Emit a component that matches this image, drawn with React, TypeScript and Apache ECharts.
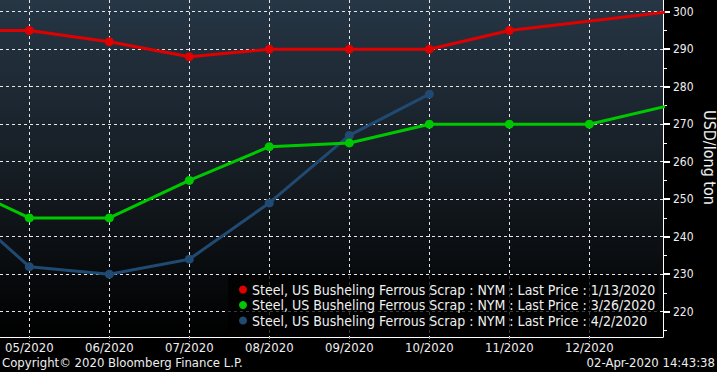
import React, { useEffect, useRef } from "react";
import * as echarts from "echarts";

const months = ["04/2020", "05/2020", "06/2020", "07/2020", "08/2020", "09/2020", "10/2020", "11/2020", "12/2020", "01/2021"];
const redValues: (number | null)[] = [295, 295, 292, 288, 290, 290, 290, 295, null, 300];
const greenValues: (number | null)[] = [255, 245, 245, 255, 264, 265, 270, 270, 270, 275];
const blueValues: (number | null)[] = [251, 232, 230, 234, 249, 267, 278, null, null, null];
const seriesNames = [
  "Steel, US Busheling Ferrous Scrap : NYM : Last Price : 1/13/2020",
  "Steel, US Busheling Ferrous Scrap : NYM : Last Price : 3/26/2020",
  "Steel, US Busheling Ferrous Scrap : NYM : Last Price : 4/2/2020",
];
const yTicks = [220, 230, 240, 250, 260, 270, 280, 290, 300];
const yMinorTicks = [215, 225, 235, 245, 255, 265, 275, 285, 295];
const xTicks = [1, 2, 3, 4, 5, 6, 7, 8];

const FONT = "'DejaVu Sans Condensed', 'DejaVu Sans', sans-serif";

export default function App() {
  const ref = useRef<HTMLDivElement>(null);
  useEffect(() => {
    if (!ref.current) return;
    const chart = echarts.init(ref.current, null, { renderer: "svg" });
    const toPairs = (arr: (number | null)[]) => arr.map((v, i) => [i, v]);
    const colors = ["#e00000", "#00c800", "#204a72"];
    const all = [redValues, greenValues, blueValues];
    chart.setOption({
      animation: false,
      backgroundColor: "#000",
      textStyle: { fontFamily: FONT },
      grid: {
        left: 0,
        right: 54,
        top: 0,
        bottom: 35,
        show: true,
        borderWidth: 0,
        backgroundColor: new echarts.graphic.LinearGradient(0, 0, 0, 1, [
          { offset: 0, color: "#263645" },
          { offset: 0.5, color: "#161d24" },
          { offset: 1, color: "#000000" },
        ]),
      },
      legend: {
        orient: "vertical",
        left: 228,
        top: 275,
        padding: [7, 3, 5, 11],
        itemGap: 0.5,
        itemWidth: 8,
        itemHeight: 8,
        itemTextGap: 6,
        icon: "circle",
        backgroundColor: "rgba(0,0,0,0.75)",
        textStyle: { color: "#f0f0f0", fontSize: 14, lineHeight: 15, fontFamily: FONT },
        data: seriesNames,
      },
      xAxis: {
        type: "value",
        min: 0.63375,
        max: 8.92125,
        splitNumber: 8,
        axisLine: { show: true, lineStyle: { color: "#ffffff", width: 1 } },
        axisTick: { show: true, customValues: xTicks, length: 5, lineStyle: { color: "#999", type: [2, 2] } },
        axisLabel: {
          customValues: xTicks,
          formatter: (v: number) => months[Math.round(v)] ?? "",
          color: "#eeeeee",
          fontSize: 13,
          margin: 4,
          fontFamily: FONT,
        },
        splitLine: { show: true, lineStyle: { color: "#e8e8e8", type: [3, 3], width: 1 } },
      },
      yAxis: [
        {
          type: "value",
          position: "right",
          min: 213.25,
          max: 303.12,
          splitNumber: 9,
          axisLine: { show: true, lineStyle: { color: "#ffffff", width: 1 } },
          axisTick: { show: true, customValues: yTicks, length: 7, lineStyle: { color: "#ffffff", width: 2 } },
          axisLabel: { customValues: yTicks, color: "#eeeeee", fontSize: 12, margin: 10, fontFamily: FONT },
          splitLine: { show: true, lineStyle: { color: "#e8e8e8", type: [3, 3], width: 1 } },
        },
        {
          type: "value",
          position: "right",
          min: 213.25,
          max: 303.12,
          axisLine: { show: false },
          axisTick: { show: true, customValues: yMinorTicks, length: 4, lineStyle: { color: "#ffffff", width: 1 } },
          axisLabel: { show: false },
          splitLine: { show: false },
        },
      ],
      series: all.map((arr, k) => ({
        name: seriesNames[k],
        type: "line",
        data: toPairs(arr),
        connectNulls: true,
        symbol: "circle",
        symbolSize: 9,
        showAllSymbol: true,
        itemStyle: { color: colors[k] },
        lineStyle: { color: colors[k], width: 3 },
        clip: true,
        z: 3 - k + 2,
      })),
      graphic: [
        {
          type: "text",
          left: 2,
          top: 356,
          style: { text: "Copyright\u00a9 2020 Bloomberg Finance L.P.", fill: "#eeeeee", font: `13px ${FONT}` },
        },
        {
          type: "text",
          right: 2,
          top: 356,
          style: { text: "02-Apr-2020 14:43:38", fill: "#eeeeee", font: `13px ${FONT}` },
        },
        {
          type: "text",
          x: 709,
          y: 157.5,
          rotation: -Math.PI / 2,
          style: { text: "USD/long ton", fill: "#eeeeee", font: `16px ${FONT}`, align: "center", verticalAlign: "middle" },
        },
      ],
    });
    return () => chart.dispose();
  }, []);
  return <div ref={ref} style={{ position: "absolute", left: 0, top: 0, width: 717, height: 372 }} />;
}
